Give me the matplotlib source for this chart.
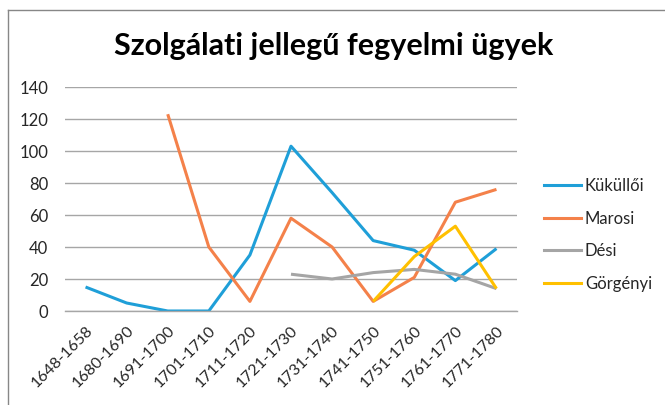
import matplotlib
matplotlib.use("Agg")
import matplotlib.pyplot as plt
import numpy as np
from matplotlib.lines import Line2D

plt.rcParams['font.family'] = ['Lato', 'DejaVu Sans']

categories = ["1648-1658", "1680-1690", "1691-1700", "1701-1710", "1711-1720",
              "1721-1730", "1731-1740", "1741-1750", "1751-1760", "1761-1770", "1771-1780"]
kukulloi = [15, 5, 0, 0, 35, 103, 74, 44, 38, 19, 39]
marosi = [None, None, 123, 40, 6, 58, 40, 6, 21, 68, 76]
desi = [None, None, None, None, None, 23, 20, 24, 26, 23, 14]
gorgenyi = [None, None, None, None, None, None, None, 6, 34, 53, 14]

series = [("Küküllői", kukulloi, "#1F9FD8"),
          ("Marosi", marosi, "#F4814A"),
          ("Dési", desi, "#A5A5A5"),
          ("Görgényi", gorgenyi, "#FFC000")]
yticks = [0, 20, 40, 60, 80, 100, 120, 140]

W, H = 665, 405
fig = plt.figure(figsize=(W / 100, H / 100), dpi=100)
ax = fig.add_axes([65 / W, 1 - 311 / H, (517 - 65) / W, (311 - 87) / H])

x = np.arange(len(categories))
for name, vals, col in series:
    y = np.array([np.nan if v is None else v for v in vals], dtype=float)
    ax.plot(x, y, color=col, lw=2.2, label=name, solid_capstyle='butt')

ax.set_xlim(-0.5, len(categories) - 0.5)
ax.set_ylim(0, 140)
ax.set_yticks(yticks)
ax.set_yticklabels([str(t) for t in yticks], fontsize=12, color="#262626")
ax.set_xticks(x)
ax.set_xticklabels(categories, rotation=45, ha='right', rotation_mode='anchor',
                   fontsize=11.5, color="#262626")
ax.tick_params(axis='y', length=0, pad=12)
ax.tick_params(axis='x', length=0, pad=9)
ax.grid(axis='y', color='#A6A6A6', lw=1)
ax.set_axisbelow(True)
for s in ['left', 'right', 'top']:
    ax.spines[s].set_visible(False)
ax.spines['bottom'].set_color('#A6A6A6')
ax.spines['bottom'].set_linewidth(1)

fig.text(334 / W, 1 - 46 / H, "Szolgálati jellegű fegyelmi ügyek", ha='center', va='center',
         fontsize=22, fontweight='bold', color='black')

handles = [Line2D([], [], color=c, lw=2.2) for _, _, c in series]
leg = fig.legend(handles, [n for n, _, _ in series], loc='center left',
                 bbox_to_anchor=(544 / W, 1 - 235 / H), frameon=False, fontsize=12,
                 borderpad=0, borderaxespad=0,
                 handlelength=2.2, handletextpad=0.25, labelspacing=1.0)
for t in leg.get_texts():
    t.set_color('#262626')

# outer border (top and left visible)
fig.add_artist(Line2D([8 / W, 1], [1 - 10 / H, 1 - 10 / H], transform=fig.transFigure,
                      color='#878787', lw=1))
fig.add_artist(Line2D([8 / W, 8 / W], [0, 1 - 10 / H], transform=fig.transFigure,
                      color='#878787', lw=1))

fig.savefig("out.png", dpi=100)
